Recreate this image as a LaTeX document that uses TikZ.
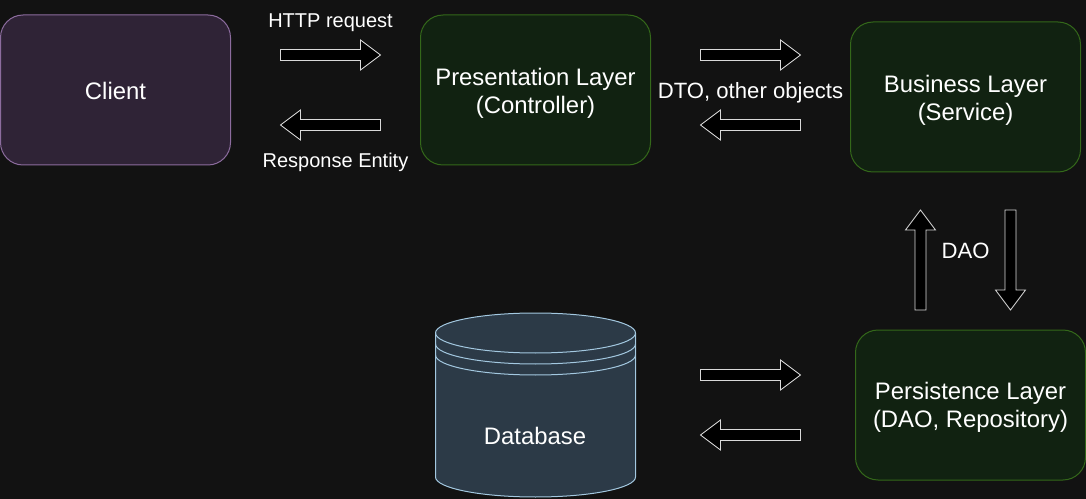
\documentclass[tikz,border=0pt]{standalone}
\usepackage{fontspec}
\setmainfont{Liberation Sans}
\usetikzlibrary{shapes.arrows}
\definecolor{bgdark}{HTML}{121212}
\definecolor{clientfill}{HTML}{2F2336}
\definecolor{clientline}{HTML}{8C6C9E}
\definecolor{layerfill}{HTML}{112211}
\definecolor{layerline}{HTML}{34681A}
\definecolor{dbfill}{HTML}{2C3A47}
\definecolor{dbline}{HTML}{A3C8E0}
\tikzstyle{layer}=[draw=layerline, fill=layerfill, rounded corners=16.9pt, minimum width=172.5pt, minimum height=112.5pt, inner sep=0pt, line width=0.75pt]
\tikzstyle{client}=[layer, draw=clientline, fill=clientfill]
\tikzstyle{boxtext}=[text=white, align=center, inner sep=0pt, font=\fontsize{17.9}{21}\selectfont]
\tikzstyle{label}=[text=white, inner sep=0pt, font=\fontsize{15}{18}\selectfont]
\tikzstyle{biglabel}=[text=white, inner sep=0pt, font=\fontsize{16.6}{20}\selectfont]
\tikzstyle{blockarrow}=[single arrow, draw=white!85!black, fill=black, line width=0.65pt, anchor=tail, inner sep=3.75pt, outer sep=0pt, minimum height=75pt, minimum width=22.5pt, single arrow tip angle=73.74, single arrow head indent=0pt]

\begin{document}
\begin{tikzpicture}[x=0.75pt, y=-0.75pt]
	\useasboundingbox (0, 0) rectangle (1086, 499);
	\fill [bgdark] (0, 0) rectangle (1086, 499);
	\begin{scope}
		\node (clientbox) at (115.5, 90)[client] {};
		\node (presentation) at (535.5, 90)[layer] {};
		\node (business) at (965.5, 97)[layer] {};
		\node (persistence) at (970.5, 405)[layer] {};
		\node (clienttext) at (115.5, 90.5)[boxtext] {Client};
		\node (presentationtext) at (535.5, 93.5)[boxtext] {Presentation Layer\\(Controller)};
		\node (businesstext) at (965.5, 100.5)[boxtext] {Business Layer\\(Service)};
		\node (persistencetext) at (970.5, 407)[boxtext] {Persistence Layer\\(DAO, Repository)};
	\end{scope}
	\begin{scope}
		\draw [dbline, fill=dbfill, line width=0.75pt] (435.5, 333)
			arc [start angle=180, end angle=0, x radius=75pt, y radius=15pt]
			-- (635.5, 477)
			arc [start angle=0, end angle=-180, x radius=75pt, y radius=15pt]
			-- cycle;
		\draw [dbline, line width=0.75pt] (435.5, 333) arc [start angle=180, end angle=360, x radius=75pt, y radius=15pt];
		\draw [dbline, line width=0.75pt] (435.5, 344) arc [start angle=180, end angle=360, x radius=75pt, y radius=15pt];
		\draw [dbline, line width=0.75pt] (435.5, 355) arc [start angle=180, end angle=360, x radius=75pt, y radius=15pt];
		\node (database) at (535, 436)[boxtext] {Database};
	\end{scope}
	\begin{scope}
		\node (request) at (280.5, 55)[blockarrow] {};
		\node (response) at (380.5, 125)[blockarrow, shape border rotate=180] {};
		\node (toservice) at (700.5, 55)[blockarrow] {};
		\node (fromservice) at (800.5, 125)[blockarrow, shape border rotate=180] {};
		\node (fromdao) at (920.5, 310)[blockarrow, shape border rotate=90] {};
		\node (todao) at (1010.5, 210)[blockarrow, shape border rotate=270] {};
		\node (todb) at (700.5, 375)[blockarrow] {};
		\node (fromdb) at (800.5, 435)[blockarrow, shape border rotate=180] {};
	\end{scope}
	\begin{scope}
		\node (httplabel) at (330.5, 23)[label] {HTTP request};
		\node (entitylabel) at (335.5, 162)[label] {Response Entity};
		\node (dtolabel) at (750.5, 93)[biglabel] {DTO, other objects};
		\node (daolabel) at (965.5, 251)[biglabel] {DAO};
	\end{scope}
\end{tikzpicture}
\end{document}
